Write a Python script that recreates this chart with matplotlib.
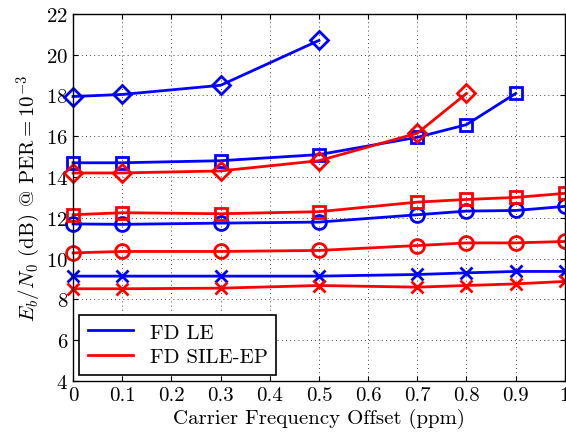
import numpy as np
import matplotlib.pyplot as plt
from matplotlib.lines import Line2D

plt.rcParams['font.family'] = 'cmr10'
plt.rcParams['mathtext.fontset'] = 'cm'
plt.rcParams['axes.formatter.use_mathtext'] = True

cfo = [0, 0.1, 0.3, 0.5, 0.7, 0.8, 0.9, 1.0]

# FD LE (blue)
le_x = [9.14, 9.14, 9.14, 9.14, 9.22, 9.30, 9.37, 9.37]
le_o = [11.70, 11.68, 11.74, 11.79, 12.15, 12.33, 12.36, 12.56]
le_s = [14.70, 14.70, 14.80, 15.10, 15.95, 16.57, 18.10]
le_d = [17.95, 18.05, 18.50, 20.70]

# FD SILE-EP (red)
ep_x = [8.52, 8.52, 8.55, 8.68, 8.60, 8.68, 8.76, 8.88]
ep_o = [10.28, 10.35, 10.35, 10.40, 10.64, 10.77, 10.77, 10.84]
ep_s = [12.15, 12.25, 12.20, 12.30, 12.77, 12.90, 13.00, 13.20]
ep_d = [14.20, 14.20, 14.30, 14.80, 16.15, 18.10]

fig = plt.figure(figsize=(5.66, 4.39), dpi=100)
ax = fig.add_axes([0.129, 0.130, 0.869, 0.836])

sizes = {'x': 8, 'o': 10, 's': 9, 'D': 9}
for ys, m in [(le_x, 'x'), (le_o, 'o'), (le_s, 's'), (le_d, 'D')]:
    ax.plot(cfo[:len(ys)], ys, color='blue', marker=m, ms=sizes[m], lw=2, mew=2,
            mfc='none', clip_on=False)
for ys, m in [(ep_x, 'x'), (ep_o, 'o'), (ep_s, 's'), (ep_d, 'D')]:
    ax.plot(cfo[:len(ys)], ys, color='red', marker=m, ms=sizes[m], lw=2, mew=2,
            mfc='none', clip_on=False)

ax.set_xlim(0, 1)
ax.set_ylim(4, 22)
ax.set_xticks(np.arange(0, 1.01, 0.1))
ax.set_xticklabels(['0', '0.1', '0.2', '0.3', '0.4', '0.5', '0.6', '0.7', '0.8', '0.9', '1'])
ax.set_yticks(np.arange(4, 23, 2))
ax.grid(True, color='black', linestyle=(0, (1, 4)), linewidth=0.6)
ax.tick_params(direction='in', top=True, right=True, labelsize=15)
for s in ax.spines.values():
    s.set_linewidth(1)

ax.set_xlabel('Carrier Frequency Offset (ppm)', fontsize=15, labelpad=3)
ax.set_ylabel(r'$E_b/N_0$ (dB) @ PER$=10^{-3}$', fontsize=15, labelpad=2)

handles = [Line2D([], [], color='blue', lw=2), Line2D([], [], color='red', lw=2)]
leg = ax.legend(handles, ['FD LE', 'FD SILE-EP'], loc='lower left', fontsize=15,
                fancybox=False, framealpha=1, edgecolor='black', handlelength=2.2,
                borderaxespad=0.3, labelspacing=0.3)
leg.get_frame().set_linewidth(1.2)

fig.savefig('out.png', dpi=100)
